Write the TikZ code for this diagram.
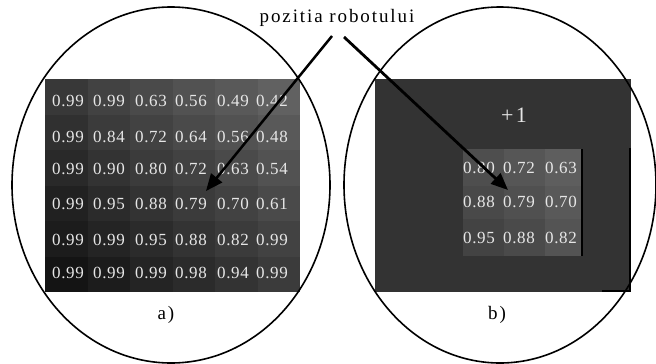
\documentclass[tikz,border=0pt]{standalone}
\usepackage{fontspec}
\setmainfont{Liberation Serif}
\newfontfamily\numf{Liberation Serif}[LetterSpace=4]
\newfontfamily\lblf{Liberation Serif}[LetterSpace=10]
\newfontfamily\capf{Liberation Serif}[LetterSpace=10]
\usetikzlibrary{arrows.meta,shapes.geometric}
\definecolor{numtext}{HTML}{E6E6E6}
\definecolor{panel}{HTML}{333333}
\definecolor{cellA}{HTML}{4E4E4E}
\definecolor{cellB}{HTML}{565656}
\definecolor{cellC}{HTML}{5E5E5E}
\definecolor{cellD}{HTML}{494949}
\definecolor{cellE}{HTML}{505050}
\definecolor{cellF}{HTML}{595959}
\definecolor{cellG}{HTML}{434343}
\definecolor{cellH}{HTML}{4A4A4A}
\definecolor{cellI}{HTML}{545454}
\tikzset{
  num/.style={text=numtext, font=\numf\fontsize{17}{20}\selectfont, inner sep=0pt, anchor=center},
  oval/.style={draw=black, line width=1.6pt, ellipse, inner sep=0pt},
  ptr/.style={draw=black, line width=2.8pt, -{Triangle[length=17pt,width=14pt]}},
  toplabel/.style={font=\lblf\fontsize{19}{22}\selectfont, inner sep=0pt},
  caption/.style={font=\capf\fontsize{19}{22}\selectfont, inner sep=0pt},
  edge line/.style={draw=black, line width=1.5pt},
}
\begin{document}
\begin{tikzpicture}[x=1pt,y=-1pt]
\useasboundingbox (0,0) rectangle (656,364);
% left grid cells
\foreach \r in {0,...,5}{
  \foreach \c in {0,...,5}{
    \pgfmathtruncatemacro\gv{100*(0.08+0.032*\c+0.03*(5-\r))}
    \fill[white!\gv!black] (45+42.5*\c, 79+35.5*\r) rectangle ++(42.5,35.5);
  }
}
% left grid numbers
\foreach \vals [count=\r from 0] in {
  {0.99,0.99,0.63,0.56,0.49,0.42},
  {0.99,0.84,0.72,0.64,0.56,0.48},
  {0.99,0.90,0.80,0.72,0.63,0.54},
  {0.99,0.95,0.88,0.79,0.70,0.61},
  {0.99,0.99,0.95,0.88,0.82,0.99},
  {0.99,0.99,0.99,0.98,0.94,0.99}}{
  \foreach \v [count=\c from 0] in \vals {
    \pgfmathsetmacro\xx{{68,109,151,191,233,272}[\c]}
    \pgfmathsetmacro\yy{{101,137,169,204,240,273}[\r]}
    \node[num] (a\r\c) at (\xx,\yy) {\v};
  }
}
% right panel
\fill[panel] (375,79) rectangle (631,292);
\fill[cellA] (463,149) rectangle (504,186);
\fill[cellB] (504,149) rectangle (545,186);
\fill[cellC] (545,149) rectangle (582,186);
\fill[cellD] (463,186) rectangle (504,219);
\fill[cellE] (504,186) rectangle (545,219);
\fill[cellF] (545,186) rectangle (582,219);
\fill[cellG] (463,219) rectangle (504,256);
\fill[cellH] (504,219) rectangle (545,256);
\fill[cellI] (545,219) rectangle (582,256);
\draw[edge line] (582,149) -- (582,256);
\draw[edge line] (630,148) -- (630,291) -- (602,291);
\node[num, font=\capf\fontsize{22}{25}\selectfont] (plus) at (514,115) {+1};
\foreach \vals [count=\r from 0] in {
  {0.80,0.72,0.63},
  {0.88,0.79,0.70},
  {0.95,0.88,0.82}}{
  \foreach \v [count=\c from 0] in \vals {
    \pgfmathsetmacro\xx{{479,519,561}[\c]}
    \pgfmathsetmacro\yy{{168,202,238}[\r]}
    \node[num] (b\r\c) at (\xx,\yy) {\v};
  }
}
% ellipses
\node[oval, minimum width=318pt, minimum height=356pt] (ovA) at (171,185) {};
\node[oval, minimum width=312pt, minimum height=356pt] (ovB) at (500,185) {};
% captions
\node[caption] (capA) at (166,315) {a)};
\node[caption] (capB) at (497,315) {b)};
% label and arrows
\node[toplabel] (lbl) at (337,18) {pozitia robotului};
\coordinate (sA) at (332,36);
\coordinate (tA) at (206,191);
\coordinate (sB) at (344,37);
\coordinate (tB) at (508,190);
\draw[ptr, line width=2.5pt] (sA) -- (tA);
\draw[ptr] (sB) -- (tB);
\end{tikzpicture}
\end{document}
